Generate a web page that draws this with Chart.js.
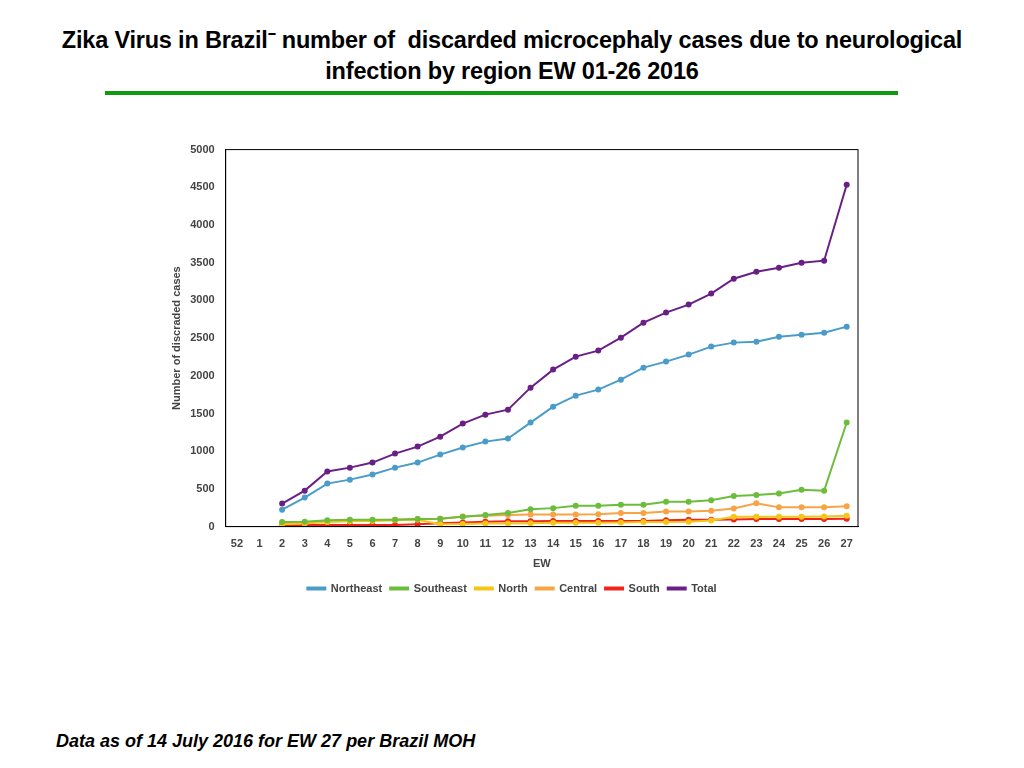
<!DOCTYPE html>
<html><head><meta charset="utf-8">
<script src="https://cdn.jsdelivr.net/npm/chart.js@4/dist/chart.umd.min.js"></script>
<style>
body{margin:0;width:1024px;height:768px;background:#fff;font-family:"Liberation Sans",Arial,sans-serif;position:relative;overflow:hidden}
#t{position:absolute;top:25px;left:0;width:1024px;text-align:center;font-weight:bold;font-size:23.5px;line-height:31px;color:#000;letter-spacing:-0.2px}
#ln{position:absolute;top:91px;left:105px;width:793px;height:4px;background:#109a10}
#c{position:absolute;left:166px;top:140px;width:714px;height:464px}
#f{position:absolute;left:56px;top:731px;font-weight:bold;font-style:italic;font-size:18px}
</style></head><body>
<div id="t">Zika Virus in Brazil⁻ number of &nbsp;discarded microcephaly cases due to neurological<br>infection by region EW 01-26 2016</div>
<div id="ln"></div>
<div id="c"><canvas id="cv"></canvas></div>
<div id="f">Data as of 14 July 2016 for EW 27 per Brazil MOH</div>
<script>
const weeks=["52","1","2","3","4","5","6","7","8","9","10","11","12","13","14","15","16","17","18","19","20","21","22","23","24","25","26","27"];
const northeast=[null,null,225,385,570,623,690,782,849,955,1048,1127,1167,1379,1591,1737,1817,1949,2108,2188,2281,2387,2440,2453,2519,2546,2572,2652];
const southeast=[null,null,60,65,85,90,90,90,100,105,130,155,180,230,245,275,275,290,290,330,330,350,405,420,440,490,475,1380];
const north=[null,null,30,40,60,70,75,85,90,30,35,40,40,45,50,50,50,55,60,60,65,80,130,130,130,130,135,145];
const central=[null,null,45,55,75,80,85,90,100,105,135,145,155,160,160,160,165,180,180,200,200,210,240,310,255,255,255,270];
const south=[null,null,15,20,20,20,20,20,30,45,55,65,70,70,75,75,75,75,75,85,90,90,95,100,100,100,100,105];
const total=[null,null,305,477,730,782,849,968,1061,1193,1366,1485,1551,1843,2082,2254,2334,2506,2705,2838,2944,3090,3288,3381,3434,3500,3527,4535];
const mk=(l,d,c)=>({label:l,data:d,borderColor:c,backgroundColor:c,borderWidth:2,pointRadius:2,pointHoverRadius:3,tension:0});
const box={id:'box',afterDraw(ch){const a=ch.chartArea,x=ch.ctx;x.save();x.strokeStyle='#000';x.lineWidth=1;x.strokeRect(a.left,a.top,a.right-a.left,a.bottom-a.top);x.restore();}};
new Chart(document.getElementById('cv'),{type:'line',plugins:[box],
data:{labels:weeks,datasets:[mk('Northeast',northeast,'#4a9cc9'),mk('Southeast',southeast,'#6cbd3c'),mk('North',north,'#f5c518'),mk('Central',central,'#f7a444'),mk('South',south,'#f0251a'),mk('Total',total,'#6a1f86')]},
options:{responsive:true,maintainAspectRatio:false,animation:false,
layout:{padding:{right:22,top:5}},
plugins:{legend:{position:'bottom',labels:{boxWidth:18,boxHeight:2,padding:8,font:{size:11,weight:'bold',family:'Liberation Sans'},color:'#444'}}},
scales:{x:{offset:true,grid:{display:false},border:{color:'#000'},title:{display:true,text:'EW',font:{size:11,weight:'bold'},color:'#444'},ticks:{font:{size:11,weight:'bold'},color:'#444',maxRotation:0,autoSkip:false}},
y:{min:0,max:5000,grid:{display:false},border:{color:'#000'},ticks:{stepSize:500,callback:v=>String(v),font:{size:11,weight:'bold'},color:'#444'},title:{display:true,text:'Number of discraded cases',font:{size:11,weight:'bold'},color:'#444'}}}}});
</script></body></html>
